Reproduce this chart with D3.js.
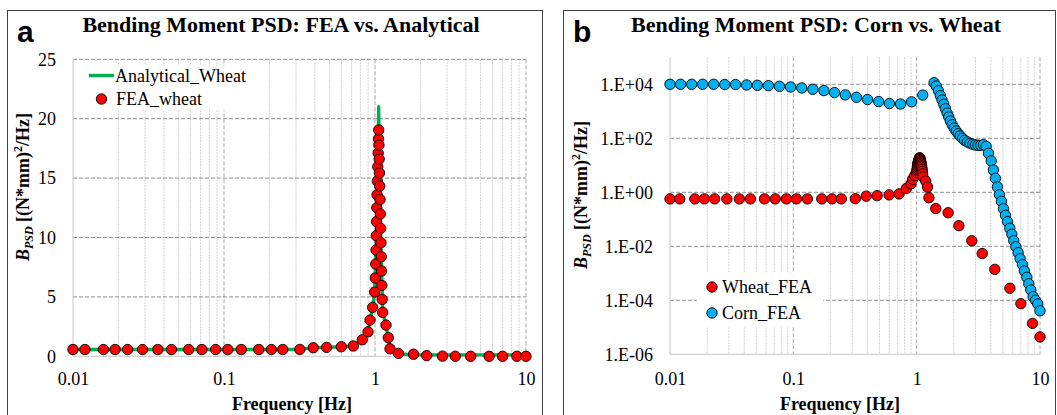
<!DOCTYPE html>
<html>
<head>
<meta charset="utf-8">
<script src="https://cdn.jsdelivr.net/npm/d3@7"></script>
<style>
body { margin: 0; background: #fff; }
svg { display: block; }
</style>
</head>
<body>
<svg id="chart" width="1057" height="415"></svg>
<script>
// wheat FEA (shared by both panels)
const wheatFreq = [0.01, 0.012, 0.0159, 0.019, 0.023, 0.0289, 0.0365, 0.0449, 0.0584, 0.0714,
	0.088, 0.106, 0.13, 0.17, 0.206, 0.245, 0.318, 0.39, 0.478, 0.598,
	0.719, 0.824, 0.899, 0.927, 0.965, 0.995, 1.005, 1.012, 1.016, 1.02,
	1.024, 1.028, 1.032, 1.037, 1.043, 1.05, 1.055, 1.058, 1.062, 1.066,
	1.07, 1.075, 1.08, 1.085, 1.09, 1.095, 1.1, 1.105, 1.11, 1.116,
	1.124, 1.183, 1.225, 1.257, 1.43, 1.8, 2.2, 2.8, 3.4, 4.3,
	5.7, 7.0, 8.7, 10];
const wheatPsd = [0.57, 0.57, 0.57, 0.57, 0.57, 0.57, 0.57, 0.57, 0.57, 0.57,
	0.57, 0.57, 0.57, 0.57, 0.57, 0.57, 0.58, 0.72, 0.75, 0.8,
	0.87, 1.39, 2.06, 3.05, 4.12, 5.41, 6.59, 7.77, 8.95, 10.15,
	11.33, 12.5, 13.6, 14.75, 15.95, 17.1, 18.3, 19.05, 17.77, 16.6,
	15.43, 14.33, 13.2, 11.98, 10.77, 9.56, 8.38, 7.18, 5.97, 4.79,
	3.7, 2.63, 1.57, 0.63, 0.25, 0.175, 0.058, 0.016, 0.0054, 0.0014,
	2.8e-4, 7.5e-5, 1.4e-5, 4.4e-6];

// analytical wheat curve (panel a)
const analyticalFreq = [0.01, 0.05, 0.2, 0.318, 0.39, 0.478, 0.598, 0.719, 0.824, 0.899,
	0.927, 0.965, 0.995, 1.02, 1.04, 1.05, 1.058, 1.066, 1.08, 1.1,
	1.124, 1.183, 1.225, 1.257, 1.43, 1.8, 3, 5, 10];
const analyticalPsd = [0.57, 0.57, 0.57, 0.58, 0.72, 0.75, 0.8, 0.87, 1.39, 2.06,
	3.05, 4.12, 5.41, 10.15, 14.75, 17.0, 21.0, 16.6, 13.2, 8.38,
	3.7, 2.63, 1.57, 0.63, 0.21, 0.12, 0.12, 0.12, 0.12];

// corn FEA (panel b)
const cornFreq = [0.01, 0.0122, 0.015, 0.0184, 0.0226, 0.0278, 0.034, 0.0418, 0.0511, 0.0628,
	0.0772, 0.095, 0.117, 0.144, 0.177, 0.216, 0.264, 0.325, 0.40, 0.492,
	0.601, 0.74, 0.91, 1.12, 1.384, 1.44, 1.50, 1.556, 1.606, 1.66,
	1.71, 1.766, 1.82, 1.877, 1.94, 2.01, 2.09, 2.17, 2.25, 2.35,
	2.45, 2.58, 2.71, 2.85, 2.99, 3.15, 3.31, 3.48, 3.66, 3.82,
	4.02, 4.19, 4.35, 4.52, 4.69, 4.87, 5.05, 5.25, 5.45, 5.69,
	5.91, 6.13, 6.37, 6.65, 6.9, 7.21, 7.48, 7.82, 8.11, 8.43,
	8.8, 9.2, 9.6, 10];
const cornPsd = [10000, 10000, 10000, 10000, 10000, 9772, 9772, 9441, 9183, 8913,
	8433, 7943, 7328, 6546, 5848, 4932, 4046, 3311, 2729, 2301,
	1941, 1862, 2239, 3981, 11482, 8650, 5794, 3784, 2630, 1820,
	1247, 865, 617, 437, 319, 240, 186, 148, 122, 100,
	84, 73, 65, 60, 56.5, 55, 55, 58, 50, 27.8,
	14.5, 6.7, 3.3, 1.58, 0.815, 0.465, 0.247, 0.141, 0.0815, 0.0465,
	0.0278, 0.0161, 0.00966, 0.0058, 0.00348, 0.00209, 0.00122, 7.1e-4, 4.1e-4, 2.4e-4,
	1.36e-4, 1.0e-4, 7.3e-5, 4.1e-5];

const freqTicks = [0.01, 0.1, 1, 10];
const linTicks = [0, 5, 10, 15, 20, 25];
const logTicks = [1e-6, 1e-4, 1e-2, 1, 1e2, 1e4];

const serif = "'Liberation Serif', 'Times New Roman', serif";
const sans = "'Liberation Sans', Arial, sans-serif";
const RED = "#ff0000";
const BLUE = "#00b0f0";
const GREEN = "#00b050";

const svg = d3.select("#chart");

function zip(xs, ys) {
	return xs.map((x, i) => ({ f: x, v: ys[i] }));
}

function drawFrame(x0, width, letter, title, titleX) {
	svg.append("rect")
		.attr("x", x0 + 0.5).attr("y", 10.5)
		.attr("width", width).attr("height", 420)
		.attr("fill", "none").attr("stroke", "#404040").attr("stroke-width", 1);
	svg.append("text")
		.attr("x", x0 + 10).attr("y", 42)
		.attr("font-family", sans).attr("font-weight", "bold").attr("font-size", 30)
		.text(letter);
	svg.append("text")
		.attr("x", titleX).attr("y", 32)
		.attr("text-anchor", "middle")
		.attr("font-family", serif).attr("font-weight", "bold").attr("font-size", 22)
		.text(title);
}

function drawGrid(g, x, y, yTicks, w, h) {
	const minor = x.ticks().filter((d) => freqTicks.indexOf(d) < 0);
	g.selectAll(".vminor").data(minor).join("line")
		.attr("x1", (d) => x(d)).attr("x2", (d) => x(d))
		.attr("y1", 0).attr("y2", h)
		.attr("stroke", "#cfcfcf").attr("stroke-dasharray", "2,1");
	g.selectAll(".vmajor").data(freqTicks.slice(1)).join("line")
		.attr("x1", (d) => x(d)).attr("x2", (d) => x(d))
		.attr("y1", 0).attr("y2", h)
		.attr("stroke", "#a6a6a6").attr("stroke-dasharray", "4,2");
	g.selectAll(".hmajor").data(yTicks.slice(1)).join("line")
		.attr("x1", 0).attr("x2", w)
		.attr("y1", (d) => y(d)).attr("y2", (d) => y(d))
		.attr("stroke", "#909090").attr("stroke-dasharray", "4,2");
	// axis lines
	g.append("line").attr("x1", 0).attr("x2", 0).attr("y1", 0).attr("y2", h)
		.attr("stroke", "#d0d0d0").attr("stroke-width", 1.2);
	g.append("line").attr("x1", 0).attr("x2", w).attr("y1", h).attr("y2", h)
		.attr("stroke", "#d0d0d0").attr("stroke-width", 1.2);
}

function drawAxes(g, x, y, yTicks, yFormat, w, h, xPad) {
	const xa = g.append("g")
		.attr("transform", "translate(0," + h + ")")
		.call(d3.axisBottom(x).tickValues(freqTicks).tickSize(0).tickPadding(xPad).tickFormat((d) => String(d)));
	xa.select(".domain").remove();
	xa.selectAll("text").attr("font-family", serif).attr("font-size", 18).attr("fill", "#000");

	const ya = g.append("g")
		.call(d3.axisLeft(y).tickValues(yTicks).tickSize(0).tickPadding(17).tickFormat(yFormat));
	ya.select(".domain").remove();
	ya.selectAll("text").attr("font-family", serif).attr("font-size", 18).attr("fill", "#000");
}

function drawTitles(yLabelX, yLabelY, xLabelX) {
	svg.append("text")
		.attr("x", xLabelX).attr("y", 410)
		.attr("text-anchor", "middle")
		.attr("font-family", serif).attr("font-weight", "bold").attr("font-size", 18)
		.text("Frequency [Hz]");

	const yl = svg.append("text")
		.attr("transform", `translate(${yLabelX},${yLabelY}) rotate(-90)`)
		.attr("text-anchor", "middle")
		.attr("font-family", serif).attr("font-weight", "bold").attr("font-size", 18);
	yl.append("tspan").attr("font-style", "italic").text("B");
	yl.append("tspan").attr("font-style", "italic").attr("font-size", 12).attr("dy", 4).text("PSD");
	yl.append("tspan").attr("dy", -4).text(" [(N*mm)");
	yl.append("tspan").attr("font-size", 12).attr("dy", -7).text("2");
	yl.append("tspan").attr("dy", 7).text("/Hz]");
}

function drawDots(g, data, x, y, color) {
	g.append("g").selectAll("circle").data(data).join("circle")
		.attr("cx", (d) => x(d.f)).attr("cy", (d) => y(d.v))
		.attr("r", 5.2)
		.attr("fill", color).attr("stroke", "#000").attr("stroke-width", 0.9);
}

// ---------- panel a ----------
const aBox = { left: 73, top: 59.3, right: 526, bottom: 356.3 };
const aW = aBox.right - aBox.left;
const aH = aBox.bottom - aBox.top;
drawFrame(7, 535, "a", "Bending Moment PSD: FEA vs. Analytical", 281);

const xA = d3.scaleLog().domain([0.01, 10]).range([0, aW]);
const yA = d3.scaleLinear().domain([0, 25]).range([aH, 0]).clamp(true);
const gA = svg.append("g").attr("transform", `translate(${aBox.left},${aBox.top})`);
drawGrid(gA, xA, yA, linTicks, aW, aH);
drawAxes(gA, xA, yA, linTicks, (d) => String(d), aW, aH, 16);
drawTitles(29, 187, 292);

gA.append("path")
	.datum(zip(analyticalFreq, analyticalPsd))
	.attr("fill", "none").attr("stroke", GREEN).attr("stroke-width", 3.4)
	.attr("stroke-linejoin", "round")
	.attr("d", d3.line().x((d) => xA(d.f)).y((d) => yA(d.v)));
drawDots(gA, zip(wheatFreq, wheatPsd), xA, yA, RED);

// legend a
const legA = svg.append("g");
legA.append("rect").attr("x", 84).attr("y", 66).attr("width", 166).attr("height", 44).attr("fill", "#fff");
legA.append("line").attr("x1", 89).attr("x2", 114).attr("y1", 75.5).attr("y2", 75.5)
	.attr("stroke", GREEN).attr("stroke-width", 3.4);
legA.append("text").attr("x", 115).attr("y", 75.5).attr("dy", "0.35em")
	.attr("font-family", serif).attr("font-size", 18).text("Analytical_Wheat");
legA.append("circle").attr("cx", 101.5).attr("cy", 99).attr("r", 5.2)
	.attr("fill", RED).attr("stroke", "#000").attr("stroke-width", 0.9);
legA.append("text").attr("x", 116).attr("y", 99).attr("dy", "0.35em")
	.attr("font-family", serif).attr("font-size", 18).text("FEA_wheat");

// ---------- panel b ----------
const bBox = { left: 670, top: 57.3, right: 1040, bottom: 354.3 };
const bW = bBox.right - bBox.left;
const bH = bBox.bottom - bBox.top;
drawFrame(563, 492, "b", "Bending Moment PSD: Corn vs. Wheat", 816);

const xB = d3.scaleLog().domain([0.01, 10]).range([0, bW]);
const yB = d3.scaleLog().domain([1e-6, 1e5]).range([bH, 0]);
const gB = svg.append("g").attr("transform", `translate(${bBox.left},${bBox.top})`);
const expFormat = (d) => {
	const e = Math.round(Math.log10(d));
	return "1.E" + (e < 0 ? "-" : "+") + String(Math.abs(e)).padStart(2, "0");
};
drawGrid(gB, xB, yB, logTicks, bW, bH);
drawAxes(gB, xB, yB, logTicks, expFormat, bW, bH, 18);
drawTitles(587, 195, 840);

// legend b background first so gridline is hidden
const legB = svg.append("g");
legB.append("rect").attr("x", 697).attr("y", 273).attr("width", 126).attr("height", 54).attr("fill", "#fff");

drawDots(gB, zip(wheatFreq, wheatPsd), xB, yB, RED);
drawDots(gB, zip(cornFreq, cornPsd), xB, yB, BLUE);

legB.raise();
legB.append("circle").attr("cx", 712).attr("cy", 287).attr("r", 5.2)
	.attr("fill", RED).attr("stroke", "#000").attr("stroke-width", 0.9);
legB.append("text").attr("x", 722).attr("y", 287).attr("dy", "0.35em")
	.attr("font-family", serif).attr("font-size", 18).text("Wheat_FEA");
legB.append("circle").attr("cx", 712).attr("cy", 313).attr("r", 5.2)
	.attr("fill", BLUE).attr("stroke", "#000").attr("stroke-width", 0.9);
legB.append("text").attr("x", 722).attr("y", 313).attr("dy", "0.35em")
	.attr("font-family", serif).attr("font-size", 18).text("Corn_FEA");
</script>
</body>
</html>
